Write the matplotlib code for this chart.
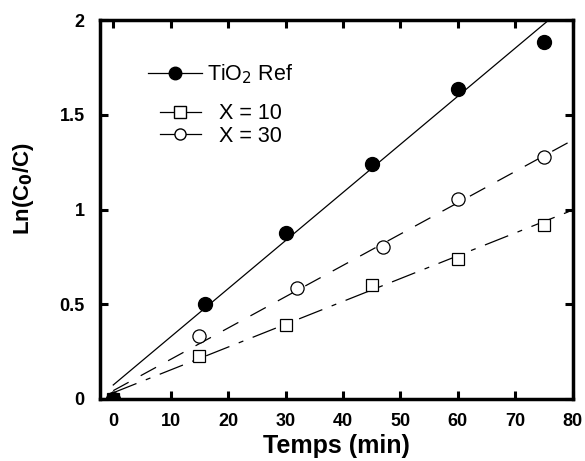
import matplotlib
matplotlib.use("Agg")
import numpy as np
import matplotlib.pyplot as plt
from matplotlib.lines import Line2D

# measured points (time in min, ln(C0/C))
t_ref = [0, 16, 30, 45, 60, 75]
y_ref = [0, 0.50, 0.875, 1.24, 1.635, 1.885]

t_x10 = [0, 15, 30, 45, 60, 75]
y_x10 = [0, 0.228, 0.388, 0.60, 0.737, 0.917]

t_x30 = [0, 15, 32, 47, 60, 75]
y_x30 = [0, 0.332, 0.588, 0.804, 1.054, 1.275]

# linear fits: (slope, intercept)
fit_ref = (0.0254, 0.074)
fit_x10 = (0.01205, 0.033)
fit_x30 = (0.01653, 0.044)

xticks = [0, 10, 20, 30, 40, 50, 60, 70, 80]
yticks = [0, 0.5, 1, 1.5, 2]
ytick_labels = ["0", "0.5", "1", "1.5", "2"]

plt.rcParams["font.family"] = ["Liberation Sans", "DejaVu Sans"]

fig = plt.figure(figsize=(5.85, 4.61), dpi=100)
ax = fig.add_axes([0.171, 0.1345, 0.808, 0.822])

xf = np.array([0.0, 80.0])
ax.plot(xf, fit_ref[0] * xf + fit_ref[1], "-", color="black", lw=0.9)
ax.plot(xf, fit_x30[0] * xf + fit_x30[1], color="black", lw=0.9,
        dashes=(14, 11), dash_capstyle="butt")
ax.plot(xf, fit_x10[0] * xf + fit_x10[1], color="black", lw=0.9,
        dashes=(20, 8, 4, 8), dash_capstyle="butt")

ax.plot(t_x10, y_x10, "s", ms=9, mfc="white", mec="black", mew=0.9, ls="none", zorder=3)
ax.plot(t_x30, y_x30, "o", ms=9.5, mfc="white", mec="black", mew=0.9, ls="none", zorder=3)
ax.plot(t_ref, y_ref, "o", ms=10, color="black", ls="none", zorder=4)

ax.set_xlim(-2.3, 80)
ax.set_ylim(0, 2)
ax.set_xticks(xticks)
ax.set_yticks(yticks)
ax.set_yticklabels(ytick_labels)
ax.tick_params(direction="in", length=6, width=2.2, top=True, right=True,
               labelsize=13)
ax.tick_params(axis="x", pad=10)
ax.tick_params(axis="y", pad=11)
for lab in ax.get_xticklabels() + ax.get_yticklabels():
    lab.set_fontweight("bold")
for s in ax.spines.values():
    s.set_linewidth(2.5)

ax.set_xlabel("Temps (min)", fontsize=18, fontweight="bold", labelpad=3)
ax.set_ylabel(r"Ln(C$_\mathbf{0}$/C)", fontsize=16, fontweight="bold")
ax.yaxis.set_label_coords(-0.135, 0.555)

# legend: first entry sits apart from the two X entries, as in the original
h_ref = Line2D([], [], color="black", lw=0.9, marker="o", ms=9, mfc="black")
h_x10 = Line2D([], [], color="black", lw=0.9, marker="s", ms=8, mfc="white")
h_x30 = Line2D([], [], color="black", lw=0.9, marker="o", ms=8, mfc="white")

leg1 = fig.legend([h_ref], [r"TiO$_2$ Ref"], loc="center left",
                  bbox_to_anchor=(148 / 585, 1 - 74 / 461), frameon=False,
                  fontsize=15.5, handlelength=2.5, handletextpad=0.25,
                  borderpad=0, borderaxespad=0)
leg2 = fig.legend([h_x10, h_x30], ["X = 10", "X = 30"], loc="center left",
                  bbox_to_anchor=(160 / 585, 1 - 125 / 461), frameon=False,
                  fontsize=15.5, handlelength=1.9, handletextpad=0.85,
                  labelspacing=0.05, handleheight=0.6,
                  borderpad=0, borderaxespad=0)

fig.savefig("out.png", dpi=100)
